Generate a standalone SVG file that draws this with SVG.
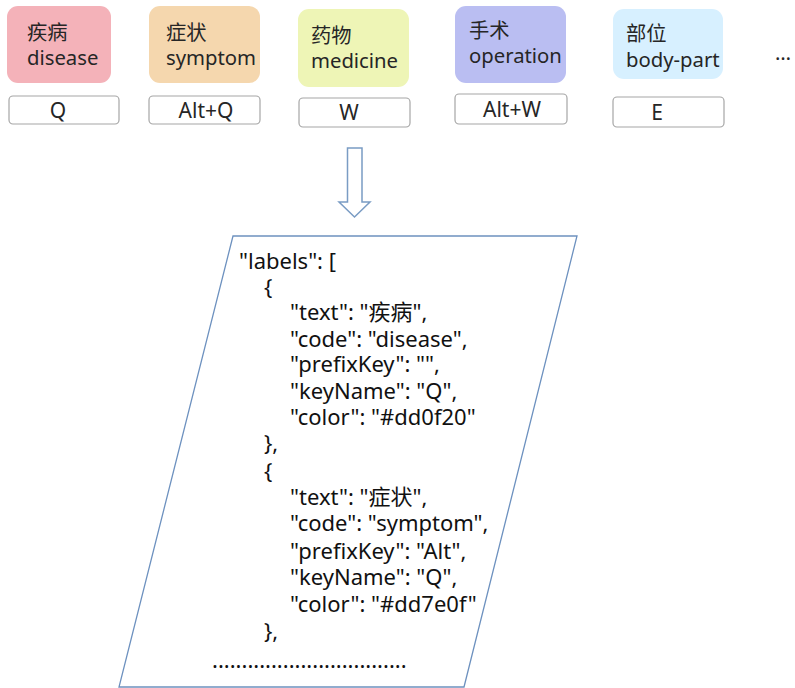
<svg xmlns="http://www.w3.org/2000/svg" width="795" height="688" viewBox="0 0 795 688">
<style>
.lbl{font-family:"Noto Sans","Noto Sans CJK SC",sans-serif;font-size:20.3px;fill:#262626}
.key{fill:#fff;stroke:#a6a6a6;stroke-width:1.2}
.kt{font-family:"Noto Sans","Noto Sans CJK SC",sans-serif;font-size:21px;fill:#262626;text-anchor:middle}
.code{font-family:"Noto Sans","Noto Sans CJK SC",sans-serif;font-size:22px;fill:#111}
</style>
<rect width="795" height="688" fill="#fff"/>
<g id="disease">
<rect x="7" y="6" width="104" height="77" rx="11" fill="#f4b2b9"/>
<text class="lbl" x="27" y="40">疾病</text>
<text class="lbl" x="27" y="65">disease</text>
<rect class="key" x="9" y="96" width="110" height="28" rx="4"/>
<text class="kt" x="58" y="118">Q</text>
</g>
<g id="symptom">
<rect x="149" y="6" width="111" height="77" rx="11" fill="#f5d7ae"/>
<text class="lbl" x="166" y="40">症状</text>
<text class="lbl" x="166" y="65">symptom</text>
<rect class="key" x="149" y="96" width="111" height="28" rx="4"/>
<text class="kt" x="206" y="118">Alt+Q</text>
</g>
<g id="medicine">
<rect x="298" y="9" width="111" height="78" rx="11" fill="#eef5b6"/>
<text class="lbl" x="311" y="43">药物</text>
<text class="lbl" x="311" y="68">medicine</text>
<rect class="key" x="299" y="98" width="111" height="29" rx="4"/>
<text class="kt" x="349" y="120">W</text>
</g>
<g id="operation">
<rect x="455" y="6" width="111" height="77" rx="11" fill="#babef2"/>
<text class="lbl" x="469" y="38">手术</text>
<text class="lbl" x="469" y="63">operation</text>
<rect class="key" x="455" y="94" width="112" height="30" rx="4"/>
<text class="kt" x="512" y="117">Alt+W</text>
</g>
<g id="body-part">
<rect x="613" y="9" width="110" height="70" rx="11" fill="#d7f0ff"/>
<text class="lbl" x="626" y="41">部位</text>
<text class="lbl" x="626" y="67">body-part</text>
<rect class="key" x="613" y="97" width="111" height="30" rx="4"/>
<text class="kt" x="657" y="120">E</text>
</g>
<g id="more">
<text class="lbl" x="775" y="60">…</text>
</g>
<g id="connectors">
<path d="M347.5,148 H362 V202 H370 L354.5,217 L339,202 H347.5 Z" fill="#fff" stroke="#7a9cc4" stroke-width="1.5" stroke-linejoin="miter"/>
</g>
<g id="json">
<path d="M233,236 H577 L464,687 H119 Z" fill="#fff" stroke="#6d91bf" stroke-width="1.3"/>
<text class="code" x="239" y="269">"labels": [</text>
<text class="code" x="264" y="295">{</text>
<text class="code" x="290" y="320">"text": "疾病",</text>
<text class="code" x="290" y="347">"code": "disease",</text>
<text class="code" x="290" y="372">"prefixKey": "",</text>
<text class="code" x="290" y="399">"keyName": "Q",</text>
<text class="code" x="290" y="425">"color": "#dd0f20"</text>
<text class="code" x="264" y="451">},</text>
<text class="code" x="264" y="479">{</text>
<text class="code" x="290" y="505">"text": "症状",</text>
<text class="code" x="290" y="531">"code": "symptom",</text>
<text class="code" x="290" y="559">"prefixKey": "Alt",</text>
<text class="code" x="290" y="585">"keyName": "Q",</text>
<text class="code" x="290" y="612">"color": "#dd7e0f"</text>
<text class="code" x="264" y="639">},</text>
<text class="code" x="212" y="668">.................................</text>
</g>
</svg>
